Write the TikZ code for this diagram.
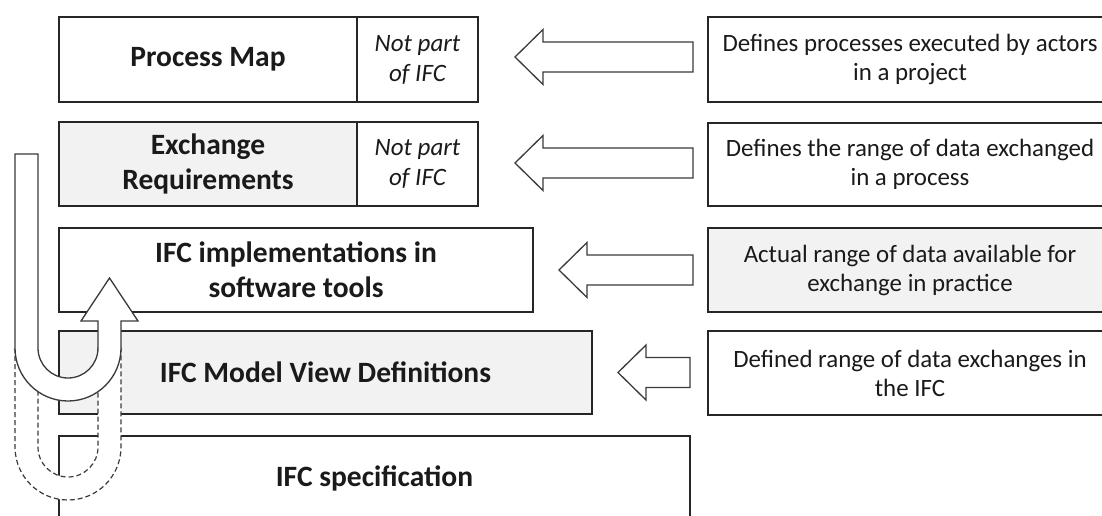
\documentclass[tikz,border=0pt]{standalone}
\usepackage{fontspec}
\setmainfont{Carlito}
\usetikzlibrary{positioning}
\definecolor{boxgray}{HTML}{F2F2F2}
\definecolor{edge}{HTML}{262626}
\definecolor{arrowedge}{HTML}{3A3A3A}
\definecolor{ink}{HTML}{1A1A1A}
\tikzset{
  box/.style={draw=edge, line width=1.4pt, rectangle, inner sep=0pt, text=ink, align=center},
  shaded/.style={fill=boxgray},
  plain/.style={fill=white},
  title/.style={font=\fontsize{29.5}{35}\selectfont\bfseries},
  note/.style={font=\fontsize{25}{30}\selectfont\itshape},
  desc/.style={font=\fontsize{24.9}{29}\selectfont},
  barrow/.style={draw=arrowedge, line width=1.3pt, fill=white, line join=miter},
  uarrow/.style={draw=arrowedge, line width=1.3pt, fill=white},
  uarrowdash/.style={draw=arrowedge, line width=1.2pt, fill=white, dash pattern=on 5pt off 3pt},
}
% left-pointing block arrow: tip x, centre y, right end x
\newcommand\leftblock[3]{%
  \draw[barrow] (#1,#2) -- (#1+28,#2+27.5) -- (#1+28,#2+15) -- (#3,#2+15)
    -- (#3,#2-15) -- (#1+28,#2-15) -- (#1+28,#2-27.5) -- cycle;}
\begin{document}
\begin{tikzpicture}[x=1pt,y=1pt]
\useasboundingbox (0,0) rectangle (1102,-516);
\clip (0,0) rectangle (1102,-516);

% layer stack on the left
\node[box, plain, title, minimum width=298pt, minimum height=85pt] (pm) at (208,-59.5) {Process Map};
\node[box, plain, note, minimum width=121pt, minimum height=85pt] (pmn) at (417.5,-59.5) {Not part\\of IFC};
\node[box, shaded, title, minimum width=298pt, minimum height=84pt] (er) at (208,-164) {Exchange\\Requirements};
\node[box, plain, note, minimum width=121pt, minimum height=84pt] (ern) at (417.5,-164) {Not part\\of IFC};
\node[box, plain, title, minimum width=474pt, minimum height=84pt] (impl) at (296,-270) {IFC implementations in\\software tools};
\node[box, shaded, title, minimum width=533pt, minimum height=83pt] (mvd) at (325.5,-372.5) {IFC Model View Definitions};
\node[box, plain, title, minimum width=631pt, minimum height=84pt] (spec) at (374.5,-478) {IFC specification};

% descriptions on the right
\node[box, plain, desc, minimum width=404pt, minimum height=85pt] (d1) at (910,-59.5) {Defines processes executed by actors\\in a project};
\node[box, plain, desc, minimum width=404pt, minimum height=83pt] (d2) at (910,-164.5) {Defines the range of data exchanged\\in a process};
\node[box, shaded, desc, minimum width=404pt, minimum height=84pt] (d3) at (910,-270) {Actual range of data available for\\exchange in practice};
\node[box, plain, desc, minimum width=404pt, minimum height=84pt] (d4) at (910,-373) {Defined range of data exchanges in\\the IFC};

% block arrows from descriptions to layers
\leftblock{515}{-57}{693}
\leftblock{515}{-163}{693}
\leftblock{559}{-270}{693}
\leftblock{618}{-372.5}{690}

% dashed U-turn below
\draw[uarrowdash] (15,-348) -- (15,-447) arc[start angle=180, end angle=360, radius=53]
  -- (121,-348) -- (98,-348) -- (98,-447) arc[start angle=360, end angle=180, radius=30]
  -- (38,-348) -- cycle;

% solid U-turn arrow
\draw[uarrow] (15,-154) -- (15,-348) arc[start angle=180, end angle=360, radius=53]
  -- (121,-321) -- (138,-321) -- (109.5,-278) -- (81,-321) -- (98,-321)
  -- (98,-348) arc[start angle=360, end angle=180, radius=30]
  -- (38,-154) -- cycle;
\end{tikzpicture}
\end{document}
